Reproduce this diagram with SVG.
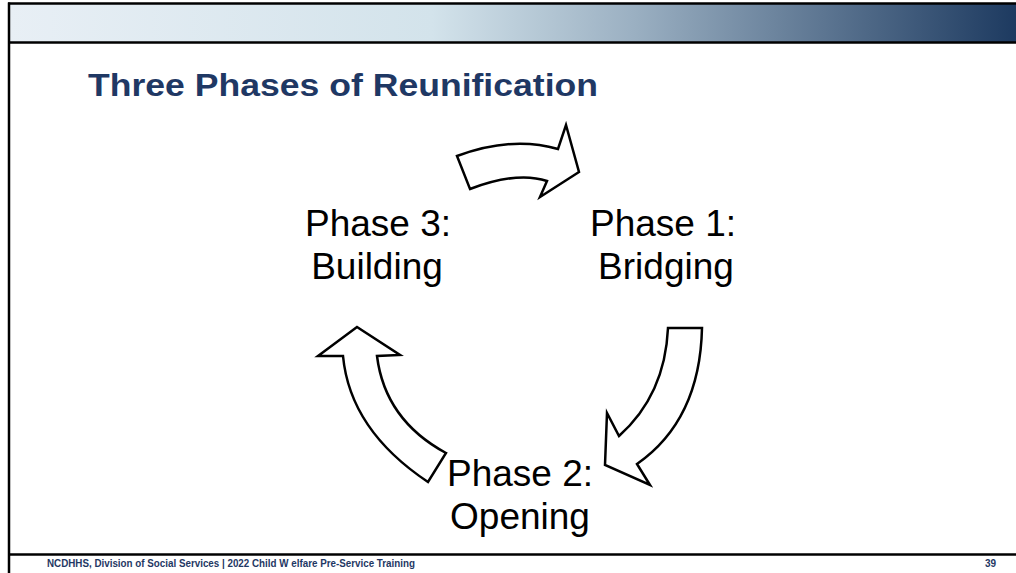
<svg xmlns="http://www.w3.org/2000/svg" width="1016" height="573" viewBox="0 0 1016 573">
<defs>
<linearGradient id="banner" x1="0" y1="0" x2="1" y2="0">
<stop offset="0" stop-color="#e8eff5"/>
<stop offset="0.42" stop-color="#d3e3eb"/>
<stop offset="0.62" stop-color="#9bb0c2"/>
<stop offset="1" stop-color="#1d3a60"/>
</linearGradient>
<style>
.lbl{font-family:"Liberation Sans",Arial,sans-serif;font-size:37px;fill:#000;text-anchor:middle}
.arrow{fill:#fff;stroke:#000;stroke-width:2.5;stroke-linejoin:miter}
.foot{font-family:"Liberation Sans",Arial,sans-serif;font-weight:bold;font-size:10px;fill:#1f3864}
</style>
</defs>
<rect width="1016" height="573" fill="#fff"/>
<g id="frame">
<rect x="9" y="3.5" width="1007" height="38.5" fill="url(#banner)"/>
<line x1="8" y1="3.5" x2="1016" y2="3.5" stroke="#000" stroke-width="2.5"/>
<line x1="8" y1="42.5" x2="1016" y2="42.5" stroke="#000" stroke-width="2.5"/>
<line x1="9" y1="2.5" x2="9" y2="573" stroke="#000" stroke-width="2.5"/>
<line x1="9" y1="554.5" x2="1016" y2="554.5" stroke="#000" stroke-width="2.5"/>
</g>
<g id="title">
<text x="88" y="96" font-family="'Liberation Sans',Arial,sans-serif" font-weight="bold" font-size="32" fill="#1f3864" textLength="510" lengthAdjust="spacingAndGlyphs">Three Phases of Reunification</text>
</g>
<g id="phase3"><text class="lbl" x="378" y="236">Phase 3:</text><text class="lbl" x="377" y="279">Building</text></g>
<g id="phase1"><text class="lbl" x="663" y="236">Phase 1:</text><text class="lbl" x="666" y="279">Bridging</text></g>
<g id="phase2"><text class="lbl" x="520" y="486">Phase 2:</text><text class="lbl" x="520" y="529">Opening</text></g>
<g id="connectors">
<path class="arrow" d="M457,156 Q512,135.5 558,149 L566,125 L579,172 L540,197 L547,181 Q517.5,171 470,189 Z"/>
<path class="arrow" d="M668,328 L702,328 Q700,420 637,464 L650,485 L605,465 L607,413 L619,436 Q665,395 668,328 Z"/>
<path class="arrow" d="M357,327 L400,355 L377,356 Q385,420 446,453 L428,482 Q350,430 343,356 L318,356 Z"/>
</g>
<g id="footer">
<text class="foot" x="47" y="567" textLength="368" lengthAdjust="spacingAndGlyphs">NCDHHS, Division of Social Services | 2022 Child W elfare Pre-Service Training</text>
<text class="foot" x="985" y="567">39</text>
</g>
</svg>
